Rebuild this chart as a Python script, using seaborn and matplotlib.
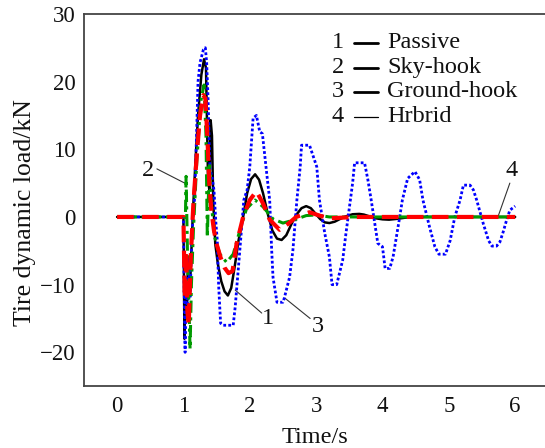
import matplotlib
matplotlib.use("Agg")
import matplotlib.pyplot as plt
import seaborn as sns
import pandas as pd

# ---------------- data ----------------
t_passive = [0, 1.0, 1.015, 1.03, 1.05, 1.07, 1.1, 1.14, 1.18, 1.22, 1.27, 1.31, 1.34,
             1.37, 1.39, 1.41, 1.43, 1.45, 1.48, 1.52, 1.57, 1.62, 1.67, 1.72, 1.77,
             1.83, 1.9, 1.96, 2.02, 2.08, 2.14, 2.2, 2.27, 2.34, 2.41, 2.48, 2.55,
             2.63, 2.7, 2.78, 2.85, 2.92, 2.99, 3.06, 3.13, 3.2, 3.28, 3.36, 3.45,
             3.55, 3.65, 3.72, 3.8, 3.9, 4.0, 4.1, 4.2, 4.35, 4.5, 6.0]
v_passive = [0, 0, -18, -9, -15, -6, -10, 0, 8, 15, 21, 23.3, 22,
             6, 4, 14.3, 12, 2, -4, -7, -9.5, -11, -11.6, -10.5, -7.5,
             -3.5, 0, 3.5, 5.6, 6.3, 5.5, 3.5, 0.5, -2, -3.2, -3.4, -2.7,
             -1, 0.3, 1.3, 1.6, 1.3, 0.5, -0.3, -0.8, -0.9, -0.7, -0.3, 0.1,
             0.4, 0.45, 0.35, 0.1, -0.2, -0.35, -0.4, -0.3, -0.1, 0, 0]

t_sky = [0, 1.0, 1.03, 1.04, 1.06, 1.08, 1.10, 1.12, 1.15, 1.2, 1.26, 1.31, 1.34,
         1.36, 1.39, 1.42, 1.47, 1.55, 1.65, 1.75, 1.85, 1.95, 2.08, 2.2, 2.35,
         2.5, 2.65, 2.85, 3.0, 3.2, 6.0]
v_sky = [0, 0, 0, 6, -5, -12, -19.5, -10, -2, 8, 17, 19.5, 12,
         -3, 8, 2, -3, -5.5, -6.7, -5.5, -2, 1.2, 2.5, 1.5, -0.3,
         -0.9, -0.5, 0.2, 0.3, 0, 0]

t_ground = [0, 1.0, 1.01, 1.025, 1.04, 1.06, 1.08, 1.1, 1.13, 1.17, 1.2, 1.22, 1.25,
            1.3, 1.33, 1.35, 1.37, 1.40, 1.43, 1.46, 1.49, 1.51, 1.53, 1.56, 1.6,
            1.75, 1.78, 1.85, 1.91, 1.96, 2.0, 2.05, 2.1, 2.15, 2.19, 2.26, 2.3,
            2.33, 2.35, 2.41, 2.5, 2.52, 2.6, 2.65, 2.71, 2.76, 2.78, 2.9, 3.01,
            3.05, 3.13, 3.2, 3.24, 3.31, 3.4, 3.45, 3.55, 3.58, 3.73, 3.78, 3.83,
            3.93, 4.0, 4.04, 4.11, 4.16, 4.26, 4.3, 4.38, 4.49, 4.56, 4.61, 4.71,
            4.79, 4.85, 4.95, 5.02, 5.09, 5.17, 5.22, 5.32, 5.37, 5.42, 5.52, 5.6,
            5.65, 5.72, 5.77, 5.82, 5.87, 5.92, 6.0]
v_ground = [0, 0, -10, -20, -9, -15, -6, -12, -2, 3, 12.9, 20, 22.8,
            24.7, 25, 22.8, 17.8, 7, 6, 4, -1, -3.4, -10, -15.7, -16,
            -16, -13.3, -4.9, 2.5, 4, 7.4, 14.6, 15, 12.6, 12.3, 6, 2.5,
            -4.9, -8.9, -12.6, -12.6, -12, -8.9, -4.9, 2.5, 7.4, 10.6, 10.6, 7.4,
            2.5, -2.4, -5.9, -10, -10, -6.4, -2.4, 5, 8, 8, 5.5, 2.5,
            -3.9, -4.4, -7.6, -7.6, -5.9, 0, 2.5, 5.7, 6.7, 5.5, 2.5, -1.5,
            -4.4, -5.5, -5.5, -3.5, 0, 2.5, 4.7, 4.7, 4, 2.5, -1, -3.5,
            -4.3, -4.3, -3.7, -2.2, -0.5, 1, 1.6]

t_hybrid = [0, 1.0, 1.02, 1.04, 1.06, 1.08, 1.11, 1.15, 1.2, 1.25, 1.3, 1.33, 1.36,
            1.39, 1.42, 1.46, 1.5, 1.56, 1.62, 1.68, 1.74, 1.8, 1.85, 1.9, 2.0,
            2.1, 2.2, 2.3, 2.45, 2.58, 2.7, 2.9, 3.05, 3.2, 3.4, 3.6, 6.0]
v_hybrid = [0, 0, -12, -5, -14, -16, -6, 2, 9, 15, 18, 17.5, 12,
            5, 1, -2, -4, -6, -7.5, -8.3, -8, -4, -2, 0, 2.5,
            3.8, 2, -0.4, -1.9, -1, 0, 0.7, 0.2, -0.2, -0.1, 0, 0]

legend_nums = ["1", "2", "3", "4"]
legend_names = ["Passive", "Sky-hook", "Ground-hook", "Hrbrid"]
x_ticks = [0, 1, 2, 3, 4, 5, 6]
y_ticks = [-20, -10, 0, 10, 20, 30]

# ---------------- style ----------------
sns.set_theme(style="white")
plt.rcParams["font.family"] = ["Liberation Serif", "DejaVu Serif"]

fig = plt.figure(figsize=(5.45, 4.48), dpi=100)
ax = fig.add_axes([0.154, 0.138, 0.846, 0.831])

df_p = pd.DataFrame({"t": t_passive, "v": v_passive})
df_s = pd.DataFrame({"t": t_sky, "v": v_sky})
df_g = pd.DataFrame({"t": t_ground, "v": v_ground})
df_h = pd.DataFrame({"t": t_hybrid, "v": v_hybrid})

sns.lineplot(data=df_p, x="t", y="v", ax=ax, color="black", lw=1.8,
             sort=False, estimator=None, zorder=3)
sns.lineplot(data=df_g, x="t", y="v", ax=ax, color="#0000ff", lw=2.0,
             sort=False, estimator=None, zorder=4)
sns.lineplot(data=df_s, x="t", y="v", ax=ax, color="#009a00", lw=2.2,
             sort=False, estimator=None, zorder=5)
sns.lineplot(data=df_h, x="t", y="v", ax=ax, color="#ff0000", lw=3.0,
             sort=False, estimator=None, zorder=6)
lines = ax.get_lines()
lines[1].set_linestyle((0, (1.0, 0.8)))
lines[2].set_linestyle((0, (4, 1.5, 1, 1.5)))
lines[3].set_linestyle((0, (4, 2.0)))

ax.set_xlim(-0.5, 6.45)
ax.set_ylim(-25, 30)
ax.set_xticks(x_ticks)
ax.set_yticks(y_ticks)
ax.set_xticklabels([str(v) for v in x_ticks])
ax.set_yticklabels([str(v).replace("-", "\u2212") for v in y_ticks])
ax.tick_params(axis="both", direction="in", length=5, width=1.0,
               color="#333333", labelsize=16.5, labelcolor="#111111")
ax.tick_params(axis="x", pad=7)
ax.tick_params(axis="y", pad=6)
for s in ["left", "bottom", "top"]:
    ax.spines[s].set_color("#444444")
    ax.spines[s].set_linewidth(1.3)
ax.spines["right"].set_visible(False)

ax.set_xlabel("Time/s", fontsize=17.5, color="#111111", labelpad=7)
ax.set_ylabel("Tire dynamic load/kN", fontsize=18.5, color="#111111")
ax.yaxis.set_label_coords(-0.104, 0.465)

# legend (numbers, short black lines, names)
lx0, lx1 = (354 - 84) / 461, (378 - 84) / 461
nx = (338 - 84) / 461
tx = (387 - 84) / 461
rows_py = [43, 68, 92, 117]
for i, (n, name) in enumerate(zip(legend_nums, legend_names)):
    yy = (386 - rows_py[i]) / 372
    ax.text(nx, yy, n, transform=ax.transAxes, ha="center", va="center",
            fontsize=17.5, color="#111111")
    ax.plot([lx0, lx1], [yy, yy], transform=ax.transAxes, color="black",
            lw=2.0 if i < 3 else 0.9)
    ax.text(tx, yy, name, transform=ax.transAxes, ha="left", va="center",
            fontsize=17.5, color="#111111")

# callouts
ann = dict(color="#333333", lw=0.8)
ax.plot([1.78, 2.18], [-10.8, -14.2], **ann)
ax.text(2.27, -15.0, "1", fontsize=17.5, ha="center", va="center", color="#111111")
ax.plot([2.53, 2.91], [-12, -15], **ann)
ax.text(3.03, -16.2, "3", fontsize=17.5, ha="center", va="center", color="#111111")
ax.plot([0.6, 1.02], [7.1, 5.0], **ann)
ax.text(0.47, 6.8, "2", fontsize=17.5, ha="center", va="center", color="#111111")
ax.plot([5.92, 5.74], [5.0, 0.0], **ann)
ax.text(5.95, 6.8, "4", fontsize=17.5, ha="center", va="center", color="#111111")

fig.savefig("out.png", dpi=100)
